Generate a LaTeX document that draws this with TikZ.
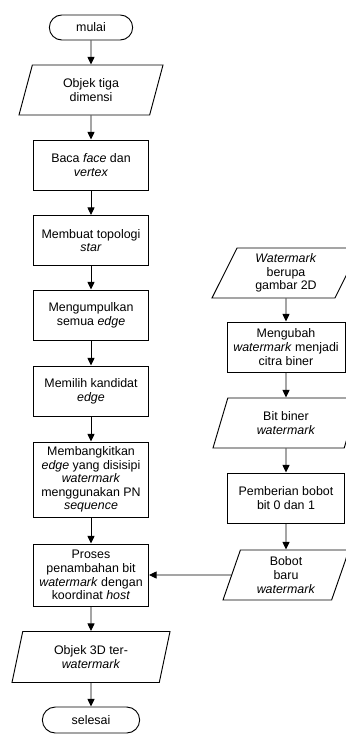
\documentclass[tikz,border=0pt]{standalone}
\usepackage{fontspec}
\setmainfont{Liberation Sans}
\usetikzlibrary{shapes.geometric,shapes.misc,arrows.meta}

\tikzset{
  terminal/.style={draw, rounded rectangle, minimum height=0.75cm},
  process/.style={draw, rectangle, minimum width=3.45cm, minimum height=1.5cm, align=center},
  data/.style={draw, trapezium, trapezium left angle=64, trapezium right angle=116,
    trapezium stretches body, minimum height=1.5cm, align=center},
  arrow/.style={-{Triangle[length=6.5pt,width=6pt]}}
}

\begin{document}
\begin{tikzpicture}[x=0.03cm, y=-0.03cm, line width=0.8pt,
  every node/.style={font=\fontsize{10.6pt}{11.6pt}\selectfont, inner sep=2pt}]
\useasboundingbox (0,0) rectangle (346,735);
\clip (0,0) rectangle (346,735);

% Main flow
\node [terminal, minimum width=2.64cm] (mulai) at (91,27.5) {mulai};
\node [data, minimum width=4.32cm] (objek) at (91,90) {Objek tiga\\dimensi};
\node [process] (baca) at (91,165) {Baca \textit{face} dan\\\textit{vertex}};
\node [process] (topologi) at (91,240.5) {Membuat topologi\\\textit{star}};
\node [process] (kumpul) at (91,315) {Mengumpulkan\\semua \textit{edge}};
\node [process] (kandidat) at (91,391) {Memilih kandidat\\\textit{edge}};
\node [process,
    minimum height=2.25cm] (bangkit) at (91,479.5) {Membangkitkan\\\textit{edge} yang disisipi\\\textit{watermark}\\menggunakan PN\\\textit{sequence}};
\node [process,
    minimum height=1.86cm] (proses) at (91,575) {Proses\\penambahan bit\\\textit{watermark} dengan\\koordinat \textit{host}};
\node [data, minimum width=4.74cm, minimum height=1.53cm,
    trapezium left angle=68.6, trapezium right angle=111.4] (objekwm) at (91,657) {Objek 3D ter-\\\textit{watermark}};
\node [terminal, minimum width=3.06cm, minimum height=0.78cm] (selesai) at (91,720) {selesai};

% Watermark flow
\node [data, minimum width=4.44cm,
    trapezium left angle=60, trapezium right angle=120] (gambar) at (286,273) {\textit{Watermark}\\berupa\\gambar 2D};
\node [process, minimum width=3.54cm] (ubah) at (286,347) {Mengubah\\\textit{watermark} menjadi\\citra biner};
\node [data, minimum width=4.38cm,
    trapezium left angle=61.6, trapezium right angle=118.4] (biner) at (286,423) {Bit biner\\\textit{watermark}};
\node [process, minimum width=3.51cm] (bobot) at (286,498) {Pemberian bobot\\bit 0 dan 1};
\node [data, minimum width=3.78cm,
    trapezium left angle=67, trapezium right angle=113] (baru) at (286,575) {Bobot\\baru\\\textit{watermark}};

% Connectors
\draw [arrow] (mulai) -- (objek);
\draw [arrow] (objek) -- (baca);
\draw [arrow] (baca) -- (topologi);
\draw [arrow] (topologi) -- (kumpul);
\draw [arrow] (kumpul) -- (kandidat);
\draw [arrow] (kandidat) -- (bangkit);
\draw [arrow] (bangkit) -- (proses);
\draw [arrow] (proses) -- (objekwm);
\draw [arrow] (objekwm) -- (selesai);
\draw [arrow] (gambar) -- (ubah);
\draw [arrow] (ubah) -- (biner);
\draw [arrow] (biner) -- (bobot);
\draw [arrow] (bobot) -- (baru);
\draw [arrow] (baru.west) -- (proses.east);

\end{tikzpicture}
\end{document}
